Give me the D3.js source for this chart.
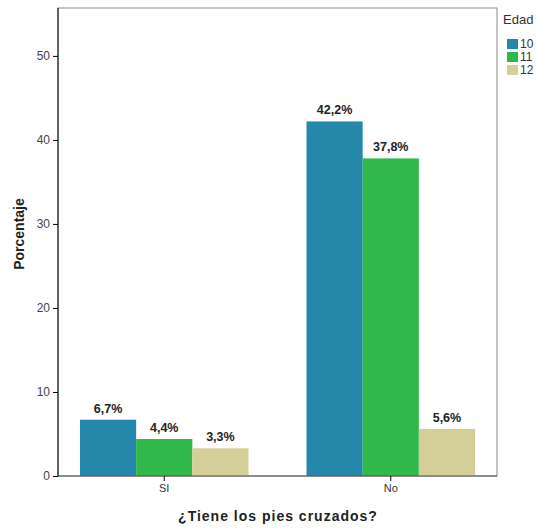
<!DOCTYPE html>
<html><head><meta charset="utf-8">
<script src="https://cdn.jsdelivr.net/npm/d3@7"></script>
<style>body{margin:0;background:#fff}</style>
</head><body>
<svg id="c" width="538" height="529"></svg>
<script>
const categories = ["SI", "No"];
const series = ["10", "11", "12"];
const values10 = [6.7, 42.2];
const values11 = [4.4, 37.8];
const values12 = [3.3, 5.6];
const yTicks = [0, 10, 20, 30, 40, 50];
const colors = ["#2587a9", "#30b84b", "#d4ce99"];

const svg = d3.select("#c");
const L = 58, R = 497, T = 8, B = 476;
const FF = "Liberation Sans, Arial, sans-serif";
const y = d3.scaleLinear().domain([0, 55.7]).range([B, T]);
const x0 = d3.scaleBand().domain(categories).range([L, R]).paddingInner(0.256).paddingOuter(0.097);
const x1 = d3.scaleBand().domain(series).range([0, x0.bandwidth()]);
const vals = [values10, values11, values12];

// frame
svg.append("rect").attr("x", L).attr("y", T).attr("width", R - L).attr("height", B - T)
  .attr("fill", "none").attr("stroke", "#888").attr("stroke-width", 1);

// bars
categories.forEach((c, ci) => {
  series.forEach((s, si) => {
    const v = vals[si][ci];
    const bx = x0(c) + x1(s);
    svg.append("rect").attr("x", bx).attr("y", y(v)).attr("width", x1.bandwidth()).attr("height", B - y(v))
      .attr("fill", colors[si]);
    svg.append("text").attr("x", bx + x1.bandwidth() / 2).attr("y", y(v) - 7)
      .attr("text-anchor", "middle").attr("font-family", FF)
      .attr("font-weight", "bold").attr("font-size", 12.5).attr("fill", "#222")
      .text(v.toFixed(1).replace(".", ",") + "%");
  });
});

// y axis
const ya = svg.append("g").attr("transform", `translate(${L},0)`)
  .call(d3.axisLeft(y).tickValues(yTicks).tickSize(5).tickPadding(3));
ya.select(".domain").attr("stroke", "#000").attr("d", `M0,${T}V${B}`);
ya.selectAll("line").attr("stroke", "#000");
ya.selectAll("text").attr("font-family", FF).attr("font-size", 12).attr("fill", "#444");

// x axis
const xa = svg.append("g").attr("transform", `translate(0,${B})`)
  .call(d3.axisBottom(x0).tickSize(5).tickPadding(3));
xa.select(".domain").attr("stroke", "#555").attr("d", `M${L},0H${R}`);
xa.selectAll("line").attr("stroke", "#000");
xa.selectAll("text").attr("font-family", FF).attr("font-size", 11).attr("fill", "#333");

// axis titles
svg.append("text").attr("transform", `translate(24,234) rotate(-90)`)
  .attr("text-anchor", "middle").attr("font-family", FF)
  .attr("font-weight", "bold").attr("font-size", 14).attr("fill", "#222").text("Porcentaje");
svg.append("text").attr("x", 278).attr("y", 521)
  .attr("text-anchor", "middle").attr("font-family", FF).attr("letter-spacing", 1)
  .attr("font-weight", "bold").attr("font-size", 14).attr("fill", "#222").text("¿Tiene los pies cruzados?");

// legend
svg.append("text").attr("x", 503).attr("y", 24).attr("font-family", FF)
  .attr("font-size", 13).attr("fill", "#333").text("Edad");
series.forEach((s, i) => {
  svg.append("rect").attr("x", 507).attr("y", 39 + i * 13).attr("width", 11).attr("height", 10).attr("fill", colors[i]);
  svg.append("text").attr("x", 520).attr("y", 48 + i * 13).attr("font-family", FF)
    .attr("font-size", 12).attr("fill", "#333").text(s);
});
</script>
</body></html>
